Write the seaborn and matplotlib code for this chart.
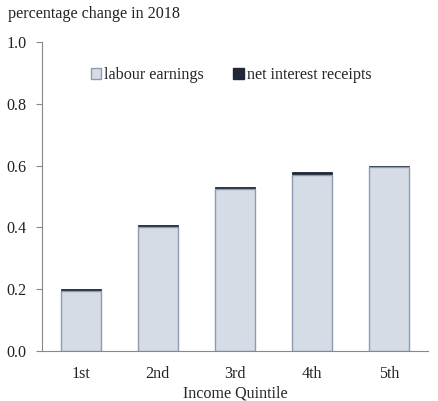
import pandas as pd
import matplotlib.pyplot as plt
import seaborn as sns
from matplotlib.patches import Patch

quintiles = ['1st', '2nd', '3rd', '4th', '5th']
labour = [0.193, 0.401, 0.525, 0.571, 0.594]
interest = [0.008, 0.007, 0.007, 0.009, 0.004]

sns.set_style('white')
plt.rcParams['font.family'] = ['Liberation Serif', 'DejaVu Serif']
fs = 11.6
plt.rcParams['font.size'] = fs

df = pd.DataFrame({'quintile': quintiles, 'labour': labour, 'interest': interest})
df['total'] = df['labour'] + df['interest']

fig = plt.figure(figsize=(4.38, 4.01), dpi=100)
ax = fig.add_axes([42 / 438, 50 / 401, 386 / 438, 309 / 401])

light = '#d5dce6'
edge = '#8e9ab0'
dark = '#1e2836'

sns.barplot(data=df, x='quintile', y='total', color=dark, width=0.52, ax=ax,
            saturation=1, edgecolor=dark, linewidth=0.6)
sns.barplot(data=df, x='quintile', y='labour', color=light, width=0.52, ax=ax,
            saturation=1, edgecolor=edge, linewidth=1.0)

ticks = [0, 0.2, 0.4, 0.6, 0.8, 1.0]
ax.set_ylim(0, 1.0)
ax.set_yticks(ticks)
ax.set_yticklabels([f'{v:.1f}' for v in ticks])
ax.set_xlim(-0.5, 4.5)
ax.set_ylabel('')
ax.set_xlabel('Income Quintile', fontsize=fs, labelpad=3)

for s in ['top', 'right']:
    ax.spines[s].set_visible(False)
for s in ['left', 'bottom']:
    ax.spines[s].set_color('#888888')
    ax.spines[s].set_linewidth(0.8)
ax.tick_params(axis='y', which='both', left=True, length=4, color='#888888',
               direction='out', pad=7, labelsize=fs, labelcolor='#222222')
ax.tick_params(axis='x', bottom=False, pad=7, labelsize=fs, labelcolor='#222222')

fig.text(8 / 438, 1 - 14 / 401, 'percentage change in 2018', fontsize=fs,
         color='#222222', va='center')

handles = [Patch(facecolor=light, edgecolor=edge, label='labour earnings'),
           Patch(facecolor=dark, edgecolor=dark, label='net interest receipts')]
ax.legend(handles=handles, loc='upper center', bbox_to_anchor=(0.49, 0.965), ncol=2,
          frameon=False, handlelength=0.65, handleheight=0.65, handletextpad=0.2,
          columnspacing=1.8, fontsize=fs)

fig.savefig('out.png', dpi=100)
